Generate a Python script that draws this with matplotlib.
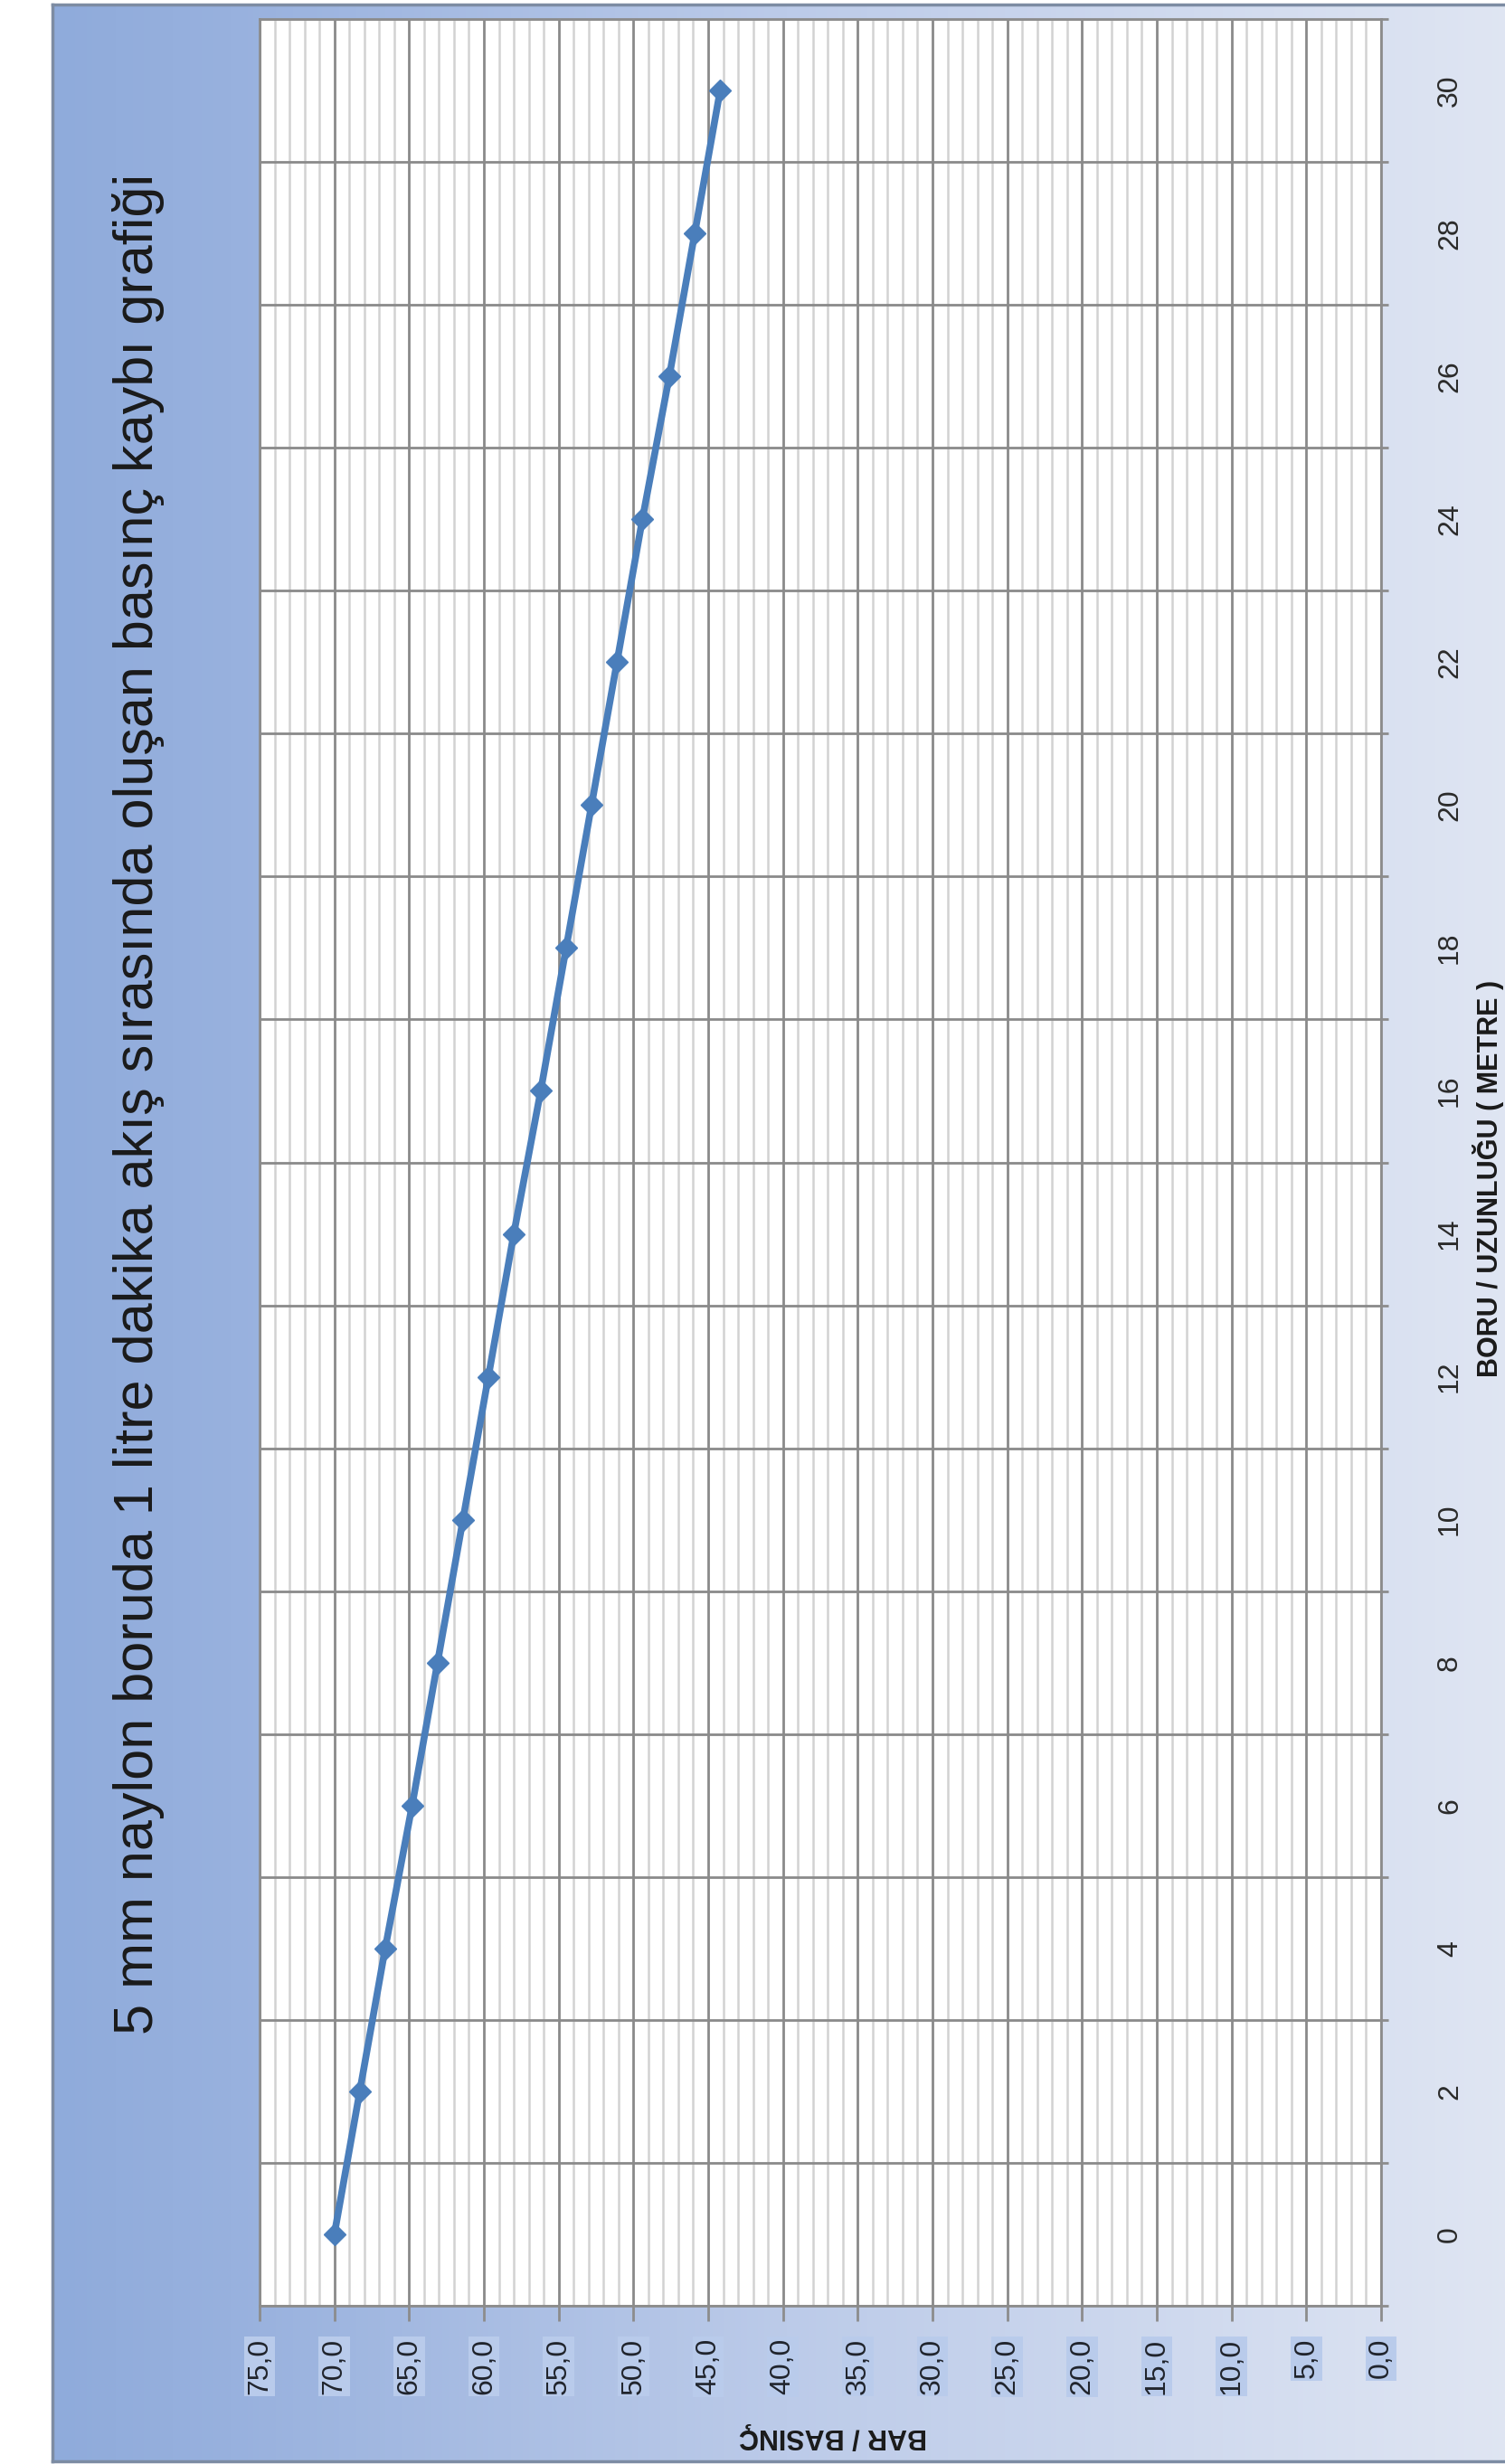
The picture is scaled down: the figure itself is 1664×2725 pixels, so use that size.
import numpy as np
import matplotlib
matplotlib.use("Agg")
import matplotlib.pyplot as plt
from matplotlib.colors import LinearSegmentedColormap
from matplotlib.ticker import MultipleLocator

plt.rcParams['font.family'] = ['Liberation Sans', 'DejaVu Sans']

# boru uzunlugu (metre) ve okunan basinc (bar)
uzunluk = [0, 2, 4, 6, 8, 10, 12, 14, 16, 18, 20, 22, 24, 26, 28, 30]
basinc = [70.0, 68.3, 66.6, 64.8, 63.1, 61.4, 59.7, 58.0,
          56.2, 54.5, 52.8, 51.1, 49.4, 47.6, 45.9, 44.2]
basinc_ticks = list(range(0, 80, 5))
basinc_labels = [f"{v:.1f}".replace('.', ',') for v in basinc_ticks]
uzunluk_labels = [str(v) for v in uzunluk]

title = "5 mm naylon boruda 1 litre dakika akış sırasında oluşan basınç kaybı grafiği"
xlabel = "BORU / UZUNLUĞU ( METRE )"
ylabel = "BAR / BASINÇ"

W, H = 1665, 2725
fig = plt.figure(figsize=(W / 100, H / 100), dpi=100)


def fx(px):
    return px / W


def fy(px):
    return 1 - px / H


# gradient background of the chart area
bg = fig.add_axes([fx(58), fy(2722), 1 - fx(58) + 0.01, (2722 - 5) / H])
cmap = LinearSegmentedColormap.from_list(
    'bg', [(0, '#8fabdb'), (0.12, '#98b1de'), (0.5, '#bccbe9'), (1, '#e0e6f3')])
bg.imshow(np.linspace(0, 1, 256)[None, :], cmap=cmap, aspect='auto',
          extent=[0, 1, 0, 1])
bg.set_xticks([])
bg.set_yticks([])
for s in bg.spines.values():
    s.set_color('#7d8ca3')
    s.set_linewidth(2.5)

# plot area (chart is drawn turned on its side)
ax = fig.add_axes([fx(287), fy(2550), fx(1527 - 287), (2550 - 21) / H])
ax.set_facecolor('white')
ax.plot(basinc, uzunluk, color='#4a7ebb', lw=5.5, marker='D', ms=12,
        zorder=3, clip_on=False)
ax.set_xlim(75, 0)
ax.set_ylim(-1, 31)

ax.set_xticks(basinc_ticks, labels=basinc_labels)
ax.xaxis.set_minor_locator(MultipleLocator(1))
ax.set_yticks(uzunluk, labels=uzunluk_labels)
ax.set_yticks(np.arange(-1, 32, 2), minor=True)
ax.yaxis.tick_right()

ax.tick_params(axis='x', which='major', length=12, width=2, color='#8c8c8c',
               labelsize=23, labelcolor='#20242c', pad=14, labelrotation=90)
ax.tick_params(axis='x', which='minor', length=0)
ax.tick_params(axis='y', which='major', length=0, labelsize=23,
               labelcolor='#2a2a2a', pad=44, labelrotation=90)
ax.tick_params(axis='y', which='minor', length=6, width=2, color='#8c8c8c',
               direction='out')
for lab in ax.get_yticklabels():
    lab.set_va('center')
for lab in ax.get_xticklabels():
    lab.set_bbox(dict(facecolor='#b9cbeb', edgecolor='none', pad=1.5))

ax.grid(axis='x', which='minor', color='#d2d2d2', lw=1.8)
ax.grid(axis='x', which='major', color='#8a8a8a', lw=2)
ax.grid(axis='y', which='minor', color='#8a8a8a', lw=2)
ax.set_axisbelow(True)
for s in ax.spines.values():
    s.set_color('#8c8c8c')
    s.set_linewidth(2)

fig.text(fx(153), fy(1221), title, rotation=90, ha='center', va='center',
         fontsize=44, color='#1a1a1a')
fig.text(fx(921), fy(2694), ylabel, rotation=180, ha='center', va='center',
         fontsize=22, fontweight='bold', color='#1a1a1a')
fig.text(fx(1628), fy(1303), xlabel, rotation=90, ha='left', va='center',
         fontsize=22, fontweight='bold', color='#1a1a1a')

fig.savefig('out.png', dpi=100)
